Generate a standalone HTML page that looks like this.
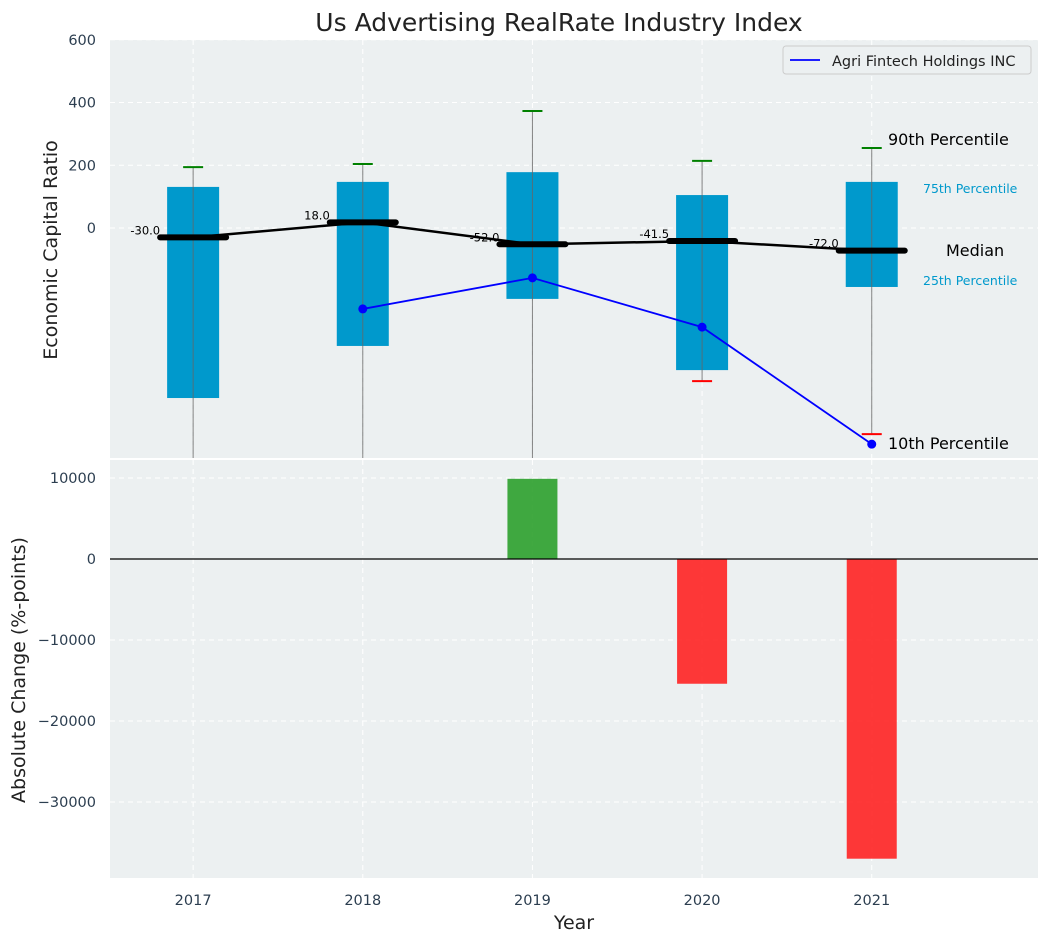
<!DOCTYPE html>
<html><head><meta charset="utf-8"><style>
body{margin:0;background:#fff;font-family:"Liberation Sans","DejaVu Sans",sans-serif}
svg text{font-family:"DejaVu Sans","Liberation Sans",sans-serif}
</style></head><body>
<svg id="c" width="1048" height="942" xmlns="http://www.w3.org/2000/svg"></svg>
<script>
const years=[2017,2018,2019,2020,2021];
const q75=[131,147,178,105,147];
const q25=[-542,-376,-226,-453,-188];
const p90=[194,204,373,214,255];
const p10=[-900,-900,-900,-488,-657];
const medians=[-30,18,-52,-41.5,-72];
const companyYears=[2018,2019,2020,2021];
const companyVals=[-258,-159,-316,-689];
const changeYears=[2019,2020,2021];
const changeVals=[9900,-15400,-37000];
const topTicks=[0,200,400,600];
const botTicks=[-30000,-20000,-10000,0,10000];

const NS="http://www.w3.org/2000/svg",svg=document.getElementById('c');
function el(t,a,txt,p){const e=document.createElementNS(NS,t);for(const k in a)e.setAttribute(k,a[k]);if(txt!=null)e.textContent=txt;(p||svg).appendChild(e);return e;}
const L=110,R=1038;
const x=v=>L+(v-2016.51)/(2021.98-2016.51)*(R-L);
const yT=v=>228-v*0.3137;
const yB=v=>559-v*0.0081;
const T1=40,B1=458,T2=460,B2=878;

let t=el('text',{x:559,y:31,'font-size':25,'text-anchor':'middle',fill:'#222'},'Us Advertising RealRate Industry Index');

let r=el('rect',{x:L,y:T1,width:R-L,height:B1-T1,fill:'#ecf0f1'});

r=el('rect',{x:L,y:T2,width:R-L,height:B2-T2,fill:'#ecf0f1'});

const cp=el('clipPath',{id:'cp1'});el('rect',{x:L,y:T1,width:R-L,height:B1-T1},null,cp);
const cp2=el('clipPath',{id:'cp2'});el('rect',{x:L,y:T2,width:R-L,height:B2-T2},null,cp2);

years.forEach(yr=>{
 el('line',{x1:x(yr),x2:x(yr),y1:T1,y2:B1,stroke:'#fff','stroke-dasharray':'5,4'});
 el('line',{x1:x(yr),x2:x(yr),y1:T2,y2:B2,stroke:'#fff','stroke-dasharray':'5,4'});
 t=el('text',{x:x(yr),y:905,'font-size':14.5,'text-anchor':'middle',fill:'#2c3e50'},yr);
 
});
topTicks.forEach(v=>{
 el('line',{x1:L,x2:R,y1:yT(v),y2:yT(v),stroke:'#fff','stroke-dasharray':'5,4'});
 t=el('text',{x:96,y:yT(v)+5,'font-size':14.5,'text-anchor':'end',fill:'#2c3e50'},v);
 
});
botTicks.forEach(v=>{
 el('line',{x1:L,x2:R,y1:yB(v),y2:yB(v),stroke:'#fff','stroke-dasharray':'5,4'});
 t=el('text',{x:96,y:yB(v)+5,'font-size':14.5,'text-anchor':'end',fill:'#2c3e50'},v<0?'\u2212'+(-v):v);
 
});
const g=el('g',{'clip-path':'url(#cp1)'});
years.forEach((yr,i)=>{
 const cx=x(yr);
 let b=el('rect',{x:cx-26,y:yT(q75[i]),width:52,height:yT(q25[i])-yT(q75[i]),fill:'#0099cc'},null,g);
 
 el('line',{x1:cx,x2:cx,y1:yT(p90[i]),y2:yT(p10[i]),stroke:'#666','stroke-width':1,opacity:0.8},null,g);
 el('line',{x1:cx-10,x2:cx+10,y1:yT(p90[i]),y2:yT(p90[i]),stroke:'green','stroke-width':2},null,g);
 if(p10[i]>-733)el('line',{x1:cx-10,x2:cx+10,y1:yT(p10[i]),y2:yT(p10[i]),stroke:'red','stroke-width':2},null,g);
});
let pl=el('polyline',{points:years.map((yr,i)=>x(yr)+','+yT(medians[i])).join(' '),fill:'none',stroke:'#000','stroke-width':2.5},null,g);

years.forEach((yr,i)=>{
 el('line',{x1:x(yr)-33,x2:x(yr)+33,y1:yT(medians[i]),y2:yT(medians[i]),stroke:'#000','stroke-width':6,'stroke-linecap':'round'},null,g);
 t=el('text',{x:x(yr)-33,y:yT(medians[i])-3,'font-size':11.5,'text-anchor':'end',fill:'#000'},medians[i].toFixed(1));
 
});
pl=el('polyline',{points:companyYears.map((yr,i)=>x(yr)+','+yT(companyVals[i])).join(' '),fill:'none',stroke:'blue','stroke-width':1.8},null,g);

companyYears.forEach((yr,i)=>{let c=el('circle',{cx:x(yr),cy:yT(companyVals[i]),r:4.5,fill:'blue'},null,g);});
[['90th Percentile',888,145,16,'#000'],['75th Percentile',923,193,12.5,'#0099cc'],['Median',946,256,16,'#000'],['25th Percentile',923,285,12.5,'#0099cc'],['10th Percentile',888,449,16,'#000']].forEach(a=>{
 t=el('text',{x:a[1],y:a[2],'font-size':a[3],fill:a[4]},a[0]);
});
const lg=el('g',{});
el('rect',{x:783,y:46,width:248,height:28,fill:'#ecf0f1',stroke:'#ccc',rx:3},null,lg);
el('line',{x1:790,x2:820,y1:60,y2:60,stroke:'blue','stroke-width':1.8},null,lg);
el('text',{x:832,y:66,'font-size':14.5,fill:'#222'},'Agri Fintech Holdings INC',lg);

const g2=el('g',{'clip-path':'url(#cp2)'});
changeYears.forEach((yr,i)=>{
 const v=changeVals[i];
 let b=el('rect',{x:x(yr)-25,y:Math.min(yB(0),yB(v)),width:50,height:Math.abs(yB(v)-yB(0)),fill:v>=0?'#2ca02c':'#ff2222',opacity:0.9},null,g2);
 
});
el('line',{x1:L,x2:R,y1:yB(0),y2:yB(0),stroke:'#000','stroke-width':1.2});
t=el('text',{x:0,y:0,'font-size':19,'text-anchor':'middle',fill:'#222',transform:'translate(57,250) rotate(-90)'},'Economic Capital Ratio');

t=el('text',{x:0,y:0,'font-size':19,'text-anchor':'middle',fill:'#222',transform:'translate(25,670) rotate(-90)'},'Absolute Change (%-points)');

t=el('text',{x:574,y:929,'font-size':19,'text-anchor':'middle',fill:'#222'},'Year');

</script></body></html>
